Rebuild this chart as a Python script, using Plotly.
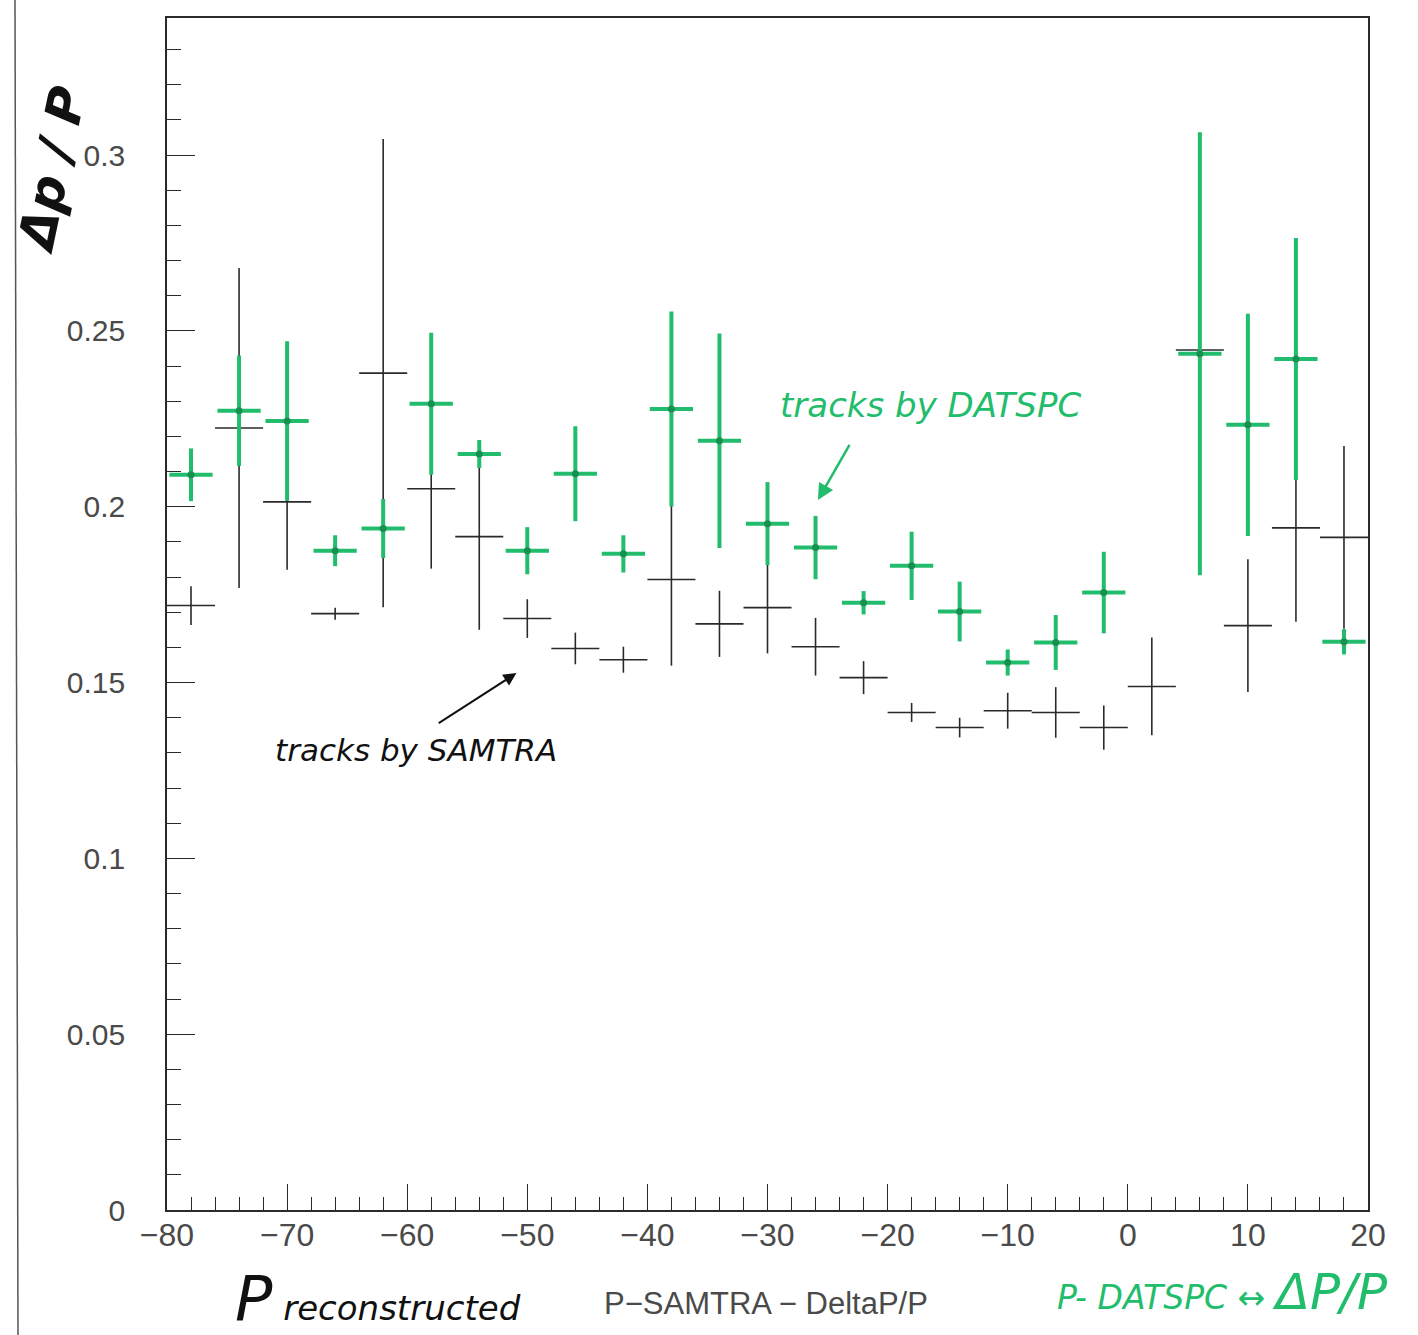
import plotly.graph_objects as go

# Momentum resolution per reconstructed-momentum bin (bin width 4)
p_centers = [-78, -74, -70, -66, -62, -58, -54, -50, -46, -42, -38, -34, -30,
             -26, -22, -18, -14, -10, -6, -2, 2, 6, 10, 14, 18]

# Tracks reconstructed by SAMTRA
samtra_dpp = [0.1719, 0.2224, 0.2014, 0.1696, 0.2380, 0.2051, 0.1915, 0.1682,
              0.1597, 0.1565, 0.1793, 0.1667, 0.1713, 0.1602, 0.1514, 0.1415,
              0.1372, 0.1420, 0.1415, 0.1372, 0.1489, 0.2446, 0.1662, 0.1940,
              0.1913]
samtra_err = [0.0055, 0.0455, 0.0193, 0.0017, 0.0666, 0.0227, 0.0265, 0.0055,
              0.0045, 0.0037, 0.0245, 0.0094, 0.0130, 0.0082, 0.0047, 0.0027,
              0.0028, 0.0051, 0.0072, 0.0063, 0.0139, 0.0097, 0.0189, 0.0267,
              0.0260]

# Tracks reconstructed by DATSPC (no entry in the bin at +2)
datspc_p = [-78, -74, -70, -66, -62, -58, -54, -50, -46, -42, -38, -34, -30,
            -26, -22, -18, -14, -10, -6, -2, 6, 10, 14, 18]
datspc_dpp = [0.2091, 0.2273, 0.2244, 0.1875, 0.1938, 0.2293, 0.2150, 0.1875,
              0.2094, 0.1866, 0.2278, 0.2188, 0.1952, 0.1884, 0.1727, 0.1832,
              0.1702, 0.1557, 0.1614, 0.1756, 0.2435, 0.2233, 0.2420, 0.1616]
datspc_err = [0.0075, 0.0157, 0.0227, 0.0044, 0.0084, 0.0202, 0.0040, 0.0067,
              0.0135, 0.0053, 0.0277, 0.0305, 0.0118, 0.0090, 0.0033, 0.0097,
              0.0085, 0.0037, 0.0078, 0.0116, 0.0630, 0.0316, 0.0344, 0.0036]

x_ticks = [-80, -70, -60, -50, -40, -30, -20, -10, 0, 10, 20]
y_ticks = [0, 0.05, 0.1, 0.15, 0.2, 0.25, 0.3]
y_tick_text = ["0", "0.05", "0.1", "0.15", "0.2", "0.25", "0.3"]

INK = "#2a2a2a"
GREEN = "#22bd6c"
GREEN_DARK = "#15904f"
HAND = "DejaVu Sans"

W, H = 1418, 1335
L, R, T, B = 167, 50, 18, 125
PW, PH = W - L - R, H - T - B


def px(xp):
    return (xp - L) / PW


def py(yp):
    return (H - B - yp) / PH


fig = go.Figure()

fig.add_trace(go.Scatter(
    x=p_centers, y=samtra_dpp, mode="markers",
    marker=dict(size=1, color=INK),
    error_x=dict(type="constant", value=2, width=0, thickness=1.6, color=INK),
    error_y=dict(type="data", array=samtra_err, width=0, thickness=1.6, color=INK),
    name="SAMTRA", showlegend=False,
))

fig.add_trace(go.Scatter(
    x=datspc_p, y=datspc_dpp, mode="markers",
    marker=dict(size=7, color=GREEN_DARK),
    error_x=dict(type="constant", value=1.8, width=0, thickness=4, color=GREEN),
    error_y=dict(type="data", array=datspc_err, width=0, thickness=4, color=GREEN),
    name="DATSPC", showlegend=False,
))

axis_common = dict(
    showgrid=False, zeroline=False, showline=True, linecolor=INK, linewidth=1.6,
    mirror=True, ticks="inside", tickcolor=INK, tickwidth=1.4,
)

fig.update_xaxes(
    range=[-80, 20], tickvals=x_ticks, ticklen=26,
    minor=dict(dtick=2, ticklen=13, ticks="inside", tickcolor=INK, tickwidth=1.2),
    ticklabelstandoff=-4,
    tickfont=dict(family="Liberation Sans", size=32, color="#4a4a4a"),
    **axis_common,
)
fig.update_yaxes(
    range=[0, 0.339], tickvals=y_ticks, ticktext=y_tick_text, ticklen=28,
    minor=dict(dtick=0.01, ticklen=14, ticks="inside", tickcolor=INK, tickwidth=1.2),
    ticklabelstandoff=34,
    tickfont=dict(family="Liberation Sans", size=30, color="#4a4a4a"),
    **axis_common,
)


def paper_text(xp, yp, text, size, color, family=HAND, angle=0):
    return dict(x=px(xp), y=py(yp), xref="paper", yref="paper", text=text,
                xanchor="center", yanchor="middle", textangle=angle,
                showarrow=False, font=dict(family=family, size=size, color=color))


annotations = [
    # handwritten labels inside the frame
    dict(x=-16.4, y=0.229, xref="x", yref="y", text="<i>tracks by DATSPC</i>",
         xanchor="center", yanchor="middle",
         showarrow=False, font=dict(family=HAND, size=34, color=GREEN)),
    dict(x=-25.8, y=0.2019, ax=-23.1, ay=0.218, xref="x", yref="y",
         axref="x", ayref="y", text="", showarrow=True, arrowhead=2,
         arrowsize=1.3, arrowwidth=2.5, arrowcolor=GREEN),
    dict(x=-59.3, y=0.1308, xref="x", yref="y", text="<i>tracks by SAMTRA</i>",
         xanchor="center", yanchor="middle",
         showarrow=False, font=dict(family=HAND, size=31, color="#111111")),
    dict(x=-50.9, y=0.1527, ax=-57.5, ay=0.1382, xref="x", yref="y",
         axref="x", ayref="y", text="", showarrow=True, arrowhead=2,
         arrowsize=1.3, arrowwidth=2, arrowcolor="#111111"),
    # axis titles
    paper_text(52, 170, "<b><i>Δp / P</i></b>", 50, "#111111", angle=-78),
    paper_text(378, 1298, "<i><span style='font-size:62px'>P</span> reconstructed</i>",
               34, "#111111"),
    paper_text(766, 1303, "P−SAMTRA − DeltaP/P", 31, "#4a4a4a", family="Liberation Sans"),
    paper_text(1222, 1292, "<i>P- DATSPC ↔ <span style='font-size:50px'>ΔP/P</span></i>",
               33, GREEN),
]

fig.update_layout(
    width=W, height=H,
    margin=dict(l=L, r=R, t=T, b=B),
    paper_bgcolor="white", plot_bgcolor="white",
    annotations=annotations,
    shapes=[dict(type="line", xref="paper", yref="paper",
                 x0=px(15), x1=px(18), y0=py(0), y1=py(H),
                 line=dict(color="#555555", width=1.5))],
)

fig.write_html("out.html")
